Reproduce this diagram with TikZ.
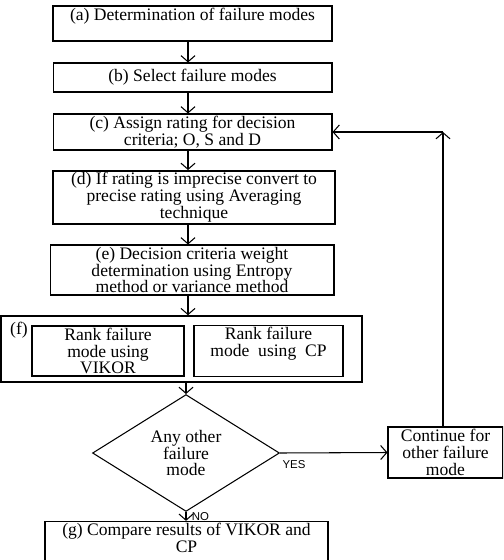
\documentclass[tikz,border=0pt]{standalone}
\usepackage{fontspec}
\setmainfont{Liberation Serif}
\newfontfamily\answerfont{Liberation Sans}
\usetikzlibrary{%
  arrows.meta,%
  shapes.geometric%
}
\tikzset{
  steptext/.style={align=center,inner sep=1pt,font=\fontsize{10}{9.6}\selectfont},
  stepbox/.style={steptext,draw,line width=0.6pt,rectangle},
  boldbox/.style={stepbox,line width=0.9pt},
  decision/.style={steptext,draw,line width=0.6pt,diamond,inner sep=0pt,
    minimum width=3.74cm,minimum height=1.96cm},
  flow/.style={->,line width=0.6pt},
  answer/.style={font=\answerfont\fontsize{6.5}{7}\selectfont,inner sep=0pt},
  >={Straight Barb[length=3.5pt,width=8pt]}
}

\begin{document}
\begin{tikzpicture}[x=0.02cm,y=-0.02cm]
    \useasboundingbox (0,0) rectangle (503,560);
    \clip (0,0) rectangle (503,560);
    % steps
    \node[boldbox,minimum width=5.58cm,minimum height=0.70cm] (a) at (192.5,23.5)
    {(a) Determination of failure modes\\[-2pt]\strut};
    \node[stepbox,minimum width=5.58cm,minimum height=0.58cm] (b) at (192.5,77.5)
    {(b) Select failure modes};
    \node[stepbox,minimum width=5.58cm,minimum height=0.72cm] (c) at (192.5,132)
    {(c) Assign rating for decision\\criteria; O, S and D};
    \node[boldbox,minimum width=5.64cm,minimum height=1.02cm] (d) at (194,197.5)
    {(d) If rating is imprecise convert to\\precise rating using Averaging\\technique};
    \node[stepbox,minimum width=5.68cm,minimum height=1.00cm] (e) at (192,270)
    {(e) Decision criteria weight\\determination using Entropy\\method or variance method};
    % ranking
    \node[boldbox,minimum width=7.22cm,minimum height=1.32cm] (f) at (181.5,349) {};
    \node[steptext,inner sep=0pt] (flabel) at (19,330) {(f)};
    \node[boldbox,minimum width=3.04cm,minimum height=1.00cm] (vikor) at (108,351)
    {Rank failure\\mode using\\VIKOR};
    \node[stepbox,minimum width=2.98cm,minimum height=1.00cm] (cp) at (268.5,351)
    {Rank failure\\mode~ using~ CP\\[-2pt]\strut};
    % decision and loop
    \node[decision] (check) at (186,453) {Any other\\failure\\mode};
    \node[stepbox,minimum width=2.30cm,minimum height=1.02cm] (cont) at (445.5,452.5)
    {Continue for\\other failure\\mode};
    \node[boldbox,minimum width=5.66cm,minimum height=1.04cm] (g) at (186.5,549)
    {(g) Compare results of VIKOR and\\CP\\[0pt]\strut};
    \coordinate (spine) at (188,0);
    \coordinate (turn) at (443,132);
    \draw[flow] (a.south -| spine) -- (b.north -| spine);
    \draw[flow] (b.south -| spine) -- (c.north -| spine);
    \draw[flow] (c.south -| spine) -- (d.north -| spine);
    \draw[flow] (d.south -| spine) -- (e.north -| spine);
    \draw[flow] (e.south -| spine) -- (f.north -| spine);
    \draw[flow] (f.south -| check.north) -- (check.north);
    \draw[flow] (check.south) -- (g.north -| check.south)
    node[answer,midway,right=3pt] {NO};
    \draw[flow] (check.east) -- (cont.west)
    node[answer,pos=0.13,below=4pt] {YES};
    \draw[flow] (cont.north -| turn) -- (turn);
    \draw[flow] (turn) -- (c.east);
  \end{tikzpicture}
\end{document}
